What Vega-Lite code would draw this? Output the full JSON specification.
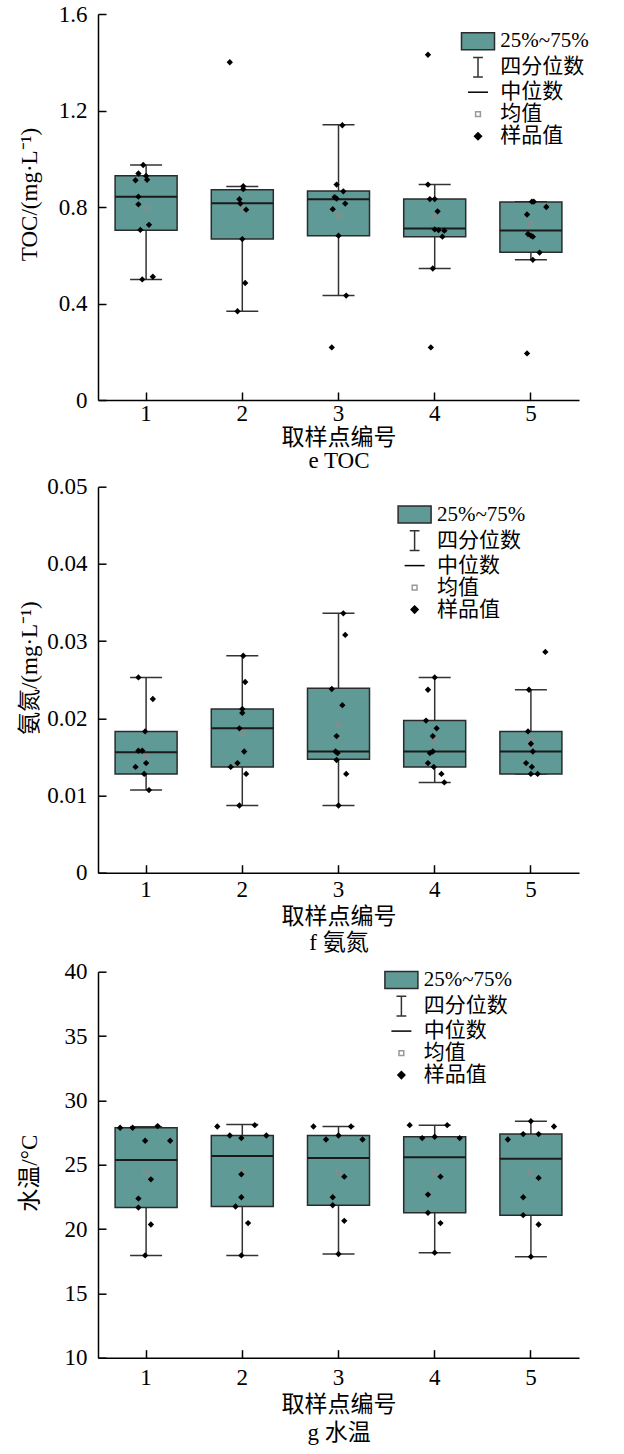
{
"$schema": "https://vega.github.io/schema/vega-lite/v6.json",
"padding": {"left": 18, "top": 3, "right": 0, "bottom": 0},
"background": "white",
"config": {
 "view": {"stroke": null},
 "axis": {"domainColor": "#000000", "domainWidth": 1.5, "tickColor": "#000000", "tickWidth": 1.5, "tickSize": -8, "grid": false, "labelFont": "Liberation Serif", "labelFontSize": 23, "labelColor": "#000000", "labelFlush": false, "labelOverlap": false, "titleFont": "Liberation Serif, Noto Sans CJK SC", "titleFontSize": 23, "titleFontWeight": "normal", "titleColor": "#000000"},
 "axisX": {"labelAngle": 0, "labelPadding": 10, "titlePadding": 4, "titleLineHeight": 22},
 "axisY": {"labelPadding": 19},
 "legend": {"labelFont": "Liberation Serif, Noto Sans CJK SC", "labelFontSize": 21, "labelColor": "#000000", "symbolSize": 400, "symbolStrokeWidth": 1.5, "rowPadding": 1, "labelOffset": 11.3, "padding": 0}
},
"datasets": {
 "leg": [{"k": "25%~75%"}, {"k": "四分位数"}, {"k": "中位数"}, {"k": "均值"}, {"k": "样品值"}],
 "toc_stats": [
  {"site": 1, "lo": 0.500, "q1": 0.704, "med": 0.843, "q3": 0.930, "hi": 0.974, "mean": 0.796},
  {"site": 2, "lo": 0.368, "q1": 0.667, "med": 0.816, "q3": 0.871, "hi": 0.885, "mean": 0.797},
  {"site": 3, "lo": 0.433, "q1": 0.681, "med": 0.832, "q3": 0.866, "hi": 1.141, "mean": 0.759},
  {"site": 4, "lo": 0.545, "q1": 0.677, "med": 0.711, "q3": 0.833, "hi": 0.893, "mean": 0.758},
  {"site": 5, "lo": 0.581, "q1": 0.612, "med": 0.703, "q3": 0.821, "hi": 0.822, "mean": 0.726}
 ],
 "toc_samples": [
  {"site": 1, "v": 0.974, "j": -0.03}, {"site": 1, "v": 0.939, "j": -0.08}, {"site": 1, "v": 0.929, "j": 0.0}, {"site": 1, "v": 0.911, "j": -0.11}, {"site": 1, "v": 0.913, "j": 0.01}, {"site": 1, "v": 0.843, "j": -0.08}, {"site": 1, "v": 0.811, "j": -0.08}, {"site": 1, "v": 0.726, "j": 0.03}, {"site": 1, "v": 0.705, "j": -0.06}, {"site": 1, "v": 0.500, "j": -0.04}, {"site": 1, "v": 0.511, "j": 0.07},
  {"site": 2, "v": 1.400, "j": -0.13}, {"site": 2, "v": 0.886, "j": 0.01}, {"site": 2, "v": 0.874, "j": 0.01}, {"site": 2, "v": 0.832, "j": -0.03}, {"site": 2, "v": 0.814, "j": -0.02}, {"site": 2, "v": 0.789, "j": 0.04}, {"site": 2, "v": 0.667, "j": 0.0}, {"site": 2, "v": 0.485, "j": 0.03}, {"site": 2, "v": 0.368, "j": -0.05},
  {"site": 3, "v": 1.139, "j": 0.04}, {"site": 3, "v": 0.893, "j": -0.02}, {"site": 3, "v": 0.865, "j": 0.05}, {"site": 3, "v": 0.841, "j": -0.04}, {"site": 3, "v": 0.835, "j": -0.02}, {"site": 3, "v": 0.814, "j": 0.07}, {"site": 3, "v": 0.791, "j": -0.06}, {"site": 3, "v": 0.681, "j": 0.0}, {"site": 3, "v": 0.433, "j": 0.08}, {"site": 3, "v": 0.218, "j": -0.07},
  {"site": 4, "v": 1.431, "j": -0.07}, {"site": 4, "v": 0.893, "j": -0.07}, {"site": 4, "v": 0.833, "j": -0.05}, {"site": 4, "v": 0.833, "j": 0.0}, {"site": 4, "v": 0.782, "j": 0.03}, {"site": 4, "v": 0.707, "j": 0.0}, {"site": 4, "v": 0.704, "j": 0.04}, {"site": 4, "v": 0.702, "j": 0.10}, {"site": 4, "v": 0.677, "j": 0.08}, {"site": 4, "v": 0.545, "j": -0.02}, {"site": 4, "v": 0.218, "j": -0.04},
  {"site": 5, "v": 0.822, "j": 0.01}, {"site": 5, "v": 0.822, "j": 0.03}, {"site": 5, "v": 0.800, "j": 0.16}, {"site": 5, "v": 0.769, "j": -0.04}, {"site": 5, "v": 0.688, "j": -0.03}, {"site": 5, "v": 0.681, "j": 0.0}, {"site": 5, "v": 0.677, "j": 0.02}, {"site": 5, "v": 0.611, "j": 0.09}, {"site": 5, "v": 0.581, "j": 0.02}, {"site": 5, "v": 0.193, "j": -0.04}
 ],
 "nh_stats": [
  {"site": 1, "lo": 0.0107, "q1": 0.0128, "med": 0.0156, "q3": 0.0183, "hi": 0.0253, "mean": 0.0150},
  {"site": 2, "lo": 0.0087, "q1": 0.0137, "med": 0.0187, "q3": 0.0212, "hi": 0.0281, "mean": 0.0181},
  {"site": 3, "lo": 0.0087, "q1": 0.0147, "med": 0.0157, "q3": 0.0239, "hi": 0.0336, "mean": 0.0191},
  {"site": 4, "lo": 0.0117, "q1": 0.0137, "med": 0.0157, "q3": 0.0197, "hi": 0.0253, "mean": 0.0171},
  {"site": 5, "lo": 0.0128, "q1": 0.0128, "med": 0.0157, "q3": 0.0183, "hi": 0.0237, "mean": 0.0171}
 ],
 "nh_samples": [
  {"site": 1, "v": 0.0253, "j": -0.08}, {"site": 1, "v": 0.0225, "j": 0.07}, {"site": 1, "v": 0.0183, "j": -0.01}, {"site": 1, "v": 0.0158, "j": -0.08}, {"site": 1, "v": 0.0158, "j": -0.04}, {"site": 1, "v": 0.0137, "j": -0.11}, {"site": 1, "v": 0.0142, "j": 0.0}, {"site": 1, "v": 0.0128, "j": -0.02}, {"site": 1, "v": 0.0107, "j": 0.03},
  {"site": 2, "v": 0.0281, "j": 0.01}, {"site": 2, "v": 0.0247, "j": 0.03}, {"site": 2, "v": 0.0212, "j": 0.0}, {"site": 2, "v": 0.0207, "j": 0.0}, {"site": 2, "v": 0.0187, "j": -0.03}, {"site": 2, "v": 0.0157, "j": 0.02}, {"site": 2, "v": 0.0142, "j": -0.05}, {"site": 2, "v": 0.0137, "j": -0.12}, {"site": 2, "v": 0.0128, "j": 0.04}, {"site": 2, "v": 0.0087, "j": -0.03},
  {"site": 3, "v": 0.0336, "j": 0.05}, {"site": 3, "v": 0.0308, "j": 0.07}, {"site": 3, "v": 0.0238, "j": -0.07}, {"site": 3, "v": 0.0217, "j": 0.04}, {"site": 3, "v": 0.0177, "j": -0.02}, {"site": 3, "v": 0.0157, "j": -0.03}, {"site": 3, "v": 0.0155, "j": -0.01}, {"site": 3, "v": 0.0146, "j": -0.02}, {"site": 3, "v": 0.0128, "j": 0.08}, {"site": 3, "v": 0.0087, "j": 0.0},
  {"site": 4, "v": 0.0253, "j": 0.0}, {"site": 4, "v": 0.0237, "j": -0.07}, {"site": 4, "v": 0.0197, "j": -0.09}, {"site": 4, "v": 0.0187, "j": 0.02}, {"site": 4, "v": 0.0177, "j": -0.02}, {"site": 4, "v": 0.0155, "j": -0.05}, {"site": 4, "v": 0.0157, "j": -0.02}, {"site": 4, "v": 0.0142, "j": -0.07}, {"site": 4, "v": 0.0137, "j": -0.01}, {"site": 4, "v": 0.0128, "j": 0.07}, {"site": 4, "v": 0.0117, "j": 0.10},
  {"site": 5, "v": 0.0286, "j": 0.15}, {"site": 5, "v": 0.0237, "j": -0.02}, {"site": 5, "v": 0.0183, "j": -0.03}, {"site": 5, "v": 0.0167, "j": 0.0}, {"site": 5, "v": 0.0157, "j": 0.02}, {"site": 5, "v": 0.0142, "j": -0.05}, {"site": 5, "v": 0.0137, "j": 0.01}, {"site": 5, "v": 0.0128, "j": 0.0}, {"site": 5, "v": 0.0128, "j": 0.07}
 ],
 "wt_stats": [
  {"site": 1, "lo": 17.95, "q1": 21.67, "med": 25.36, "q3": 27.87, "hi": 27.95, "mean": 24.35},
  {"site": 2, "lo": 17.95, "q1": 21.75, "med": 25.67, "q3": 27.27, "hi": 28.12, "mean": 24.48},
  {"site": 3, "lo": 18.06, "q1": 21.85, "med": 25.52, "q3": 27.27, "hi": 27.97, "mean": 24.43},
  {"site": 4, "lo": 18.16, "q1": 21.26, "med": 25.57, "q3": 27.17, "hi": 28.07, "mean": 24.43},
  {"site": 5, "lo": 17.85, "q1": 21.08, "med": 25.46, "q3": 27.38, "hi": 28.38, "mean": 24.38}
 ],
 "wt_samples": [
  {"site": 1, "v": 27.87, "j": -0.27}, {"site": 1, "v": 27.87, "j": -0.14}, {"site": 1, "v": 28.0, "j": 0.12}, {"site": 1, "v": 26.86, "j": -0.01}, {"site": 1, "v": 26.86, "j": 0.25}, {"site": 1, "v": 23.86, "j": 0.05}, {"site": 1, "v": 22.37, "j": -0.08}, {"site": 1, "v": 21.67, "j": -0.08}, {"site": 1, "v": 20.35, "j": 0.05}, {"site": 1, "v": 17.95, "j": -0.01},
  {"site": 2, "v": 27.97, "j": -0.26}, {"site": 2, "v": 28.07, "j": 0.13}, {"site": 2, "v": 27.27, "j": -0.13}, {"site": 2, "v": 27.27, "j": 0.25}, {"site": 2, "v": 27.07, "j": -0.01}, {"site": 2, "v": 24.25, "j": -0.01}, {"site": 2, "v": 22.47, "j": -0.01}, {"site": 2, "v": 21.75, "j": -0.07}, {"site": 2, "v": 20.46, "j": 0.06}, {"site": 2, "v": 17.95, "j": -0.01},
  {"site": 3, "v": 27.97, "j": -0.26}, {"site": 3, "v": 27.97, "j": 0.13}, {"site": 3, "v": 27.27, "j": 0.0}, {"site": 3, "v": 26.96, "j": -0.13}, {"site": 3, "v": 26.96, "j": 0.25}, {"site": 3, "v": 24.07, "j": 0.06}, {"site": 3, "v": 22.47, "j": -0.06}, {"site": 3, "v": 21.85, "j": -0.06}, {"site": 3, "v": 20.64, "j": 0.06}, {"site": 3, "v": 18.06, "j": 0.0},
  {"site": 4, "v": 28.07, "j": -0.26}, {"site": 4, "v": 28.07, "j": 0.13}, {"site": 4, "v": 27.07, "j": -0.13}, {"site": 4, "v": 27.17, "j": 0.0}, {"site": 4, "v": 27.07, "j": 0.26}, {"site": 4, "v": 24.07, "j": 0.06}, {"site": 4, "v": 22.68, "j": -0.07}, {"site": 4, "v": 21.26, "j": -0.07}, {"site": 4, "v": 20.46, "j": 0.06}, {"site": 4, "v": 18.16, "j": 0.0},
  {"site": 5, "v": 28.38, "j": 0.0}, {"site": 5, "v": 27.97, "j": 0.24}, {"site": 5, "v": 26.96, "j": -0.24}, {"site": 5, "v": 27.38, "j": -0.08}, {"site": 5, "v": 27.38, "j": 0.08}, {"site": 5, "v": 23.97, "j": 0.08}, {"site": 5, "v": 22.47, "j": -0.08}, {"site": 5, "v": 21.08, "j": -0.08}, {"site": 5, "v": 20.35, "j": 0.08}, {"site": 5, "v": 17.85, "j": 0.0}
 ]
},
"bounds": "flush",
"spacing": 86.7,
"resolve": {"scale": {"x": "independent", "y": "independent", "fill": "independent", "stroke": "independent", "shape": "independent", "xOffset": "independent"}, "legend": {"fill": "independent", "stroke": "independent", "shape": "independent"}},
"vconcat": [
 {
  "width": 481, "height": 386,
  "encoding": {"x": {"field": "site", "type": "ordinal", "scale": {"type": "band", "paddingInner": 0, "paddingOuter": 0}, "axis": {"title": ["取样点编号", "e TOC"], "labelPadding": 10, "titlePadding": 1, "titleLineHeight": 23}}},
  "layer": [
   {"data": {"name": "toc_stats"}, "mark": {"type": "rule", "color": "#333333", "strokeWidth": 1.5},
    "encoding": {"y": {"field": "lo", "type": "quantitative", "title": "TOC/(mg·L⁻¹)", "scale": {"domain": [0, 1.6], "nice": false, "zero": false}, "axis": {"values": [0, 0.4, 0.8, 1.2, 1.6], "format": "~g", "titlePadding": 17, "titleY": 180}}, "y2": {"field": "hi"}}},
   {"data": {"name": "toc_stats"}, "mark": {"type": "tick", "color": "#333333", "size": 32, "thickness": 1.5, "opacity": 1},
    "encoding": {"y": {"field": "lo", "type": "quantitative", "title": "TOC/(mg·L⁻¹)"}}},
   {"data": {"name": "toc_stats"}, "mark": {"type": "tick", "color": "#333333", "size": 32, "thickness": 1.5, "opacity": 1},
    "encoding": {"y": {"field": "hi", "type": "quantitative", "title": "TOC/(mg·L⁻¹)"}}},
   {"data": {"name": "toc_stats"}, "mark": {"type": "bar", "width": 62, "fill": "#5f9a97", "stroke": "#2b2b2b", "strokeWidth": 1.5},
    "encoding": {"y": {"field": "q1", "type": "quantitative", "title": "TOC/(mg·L⁻¹)"}, "y2": {"field": "q3"}}},
   {"data": {"name": "toc_stats"}, "mark": {"type": "tick", "color": "#1a1a1a", "size": 62, "thickness": 2, "opacity": 1},
    "encoding": {"y": {"field": "med", "type": "quantitative", "title": "TOC/(mg·L⁻¹)"}}},
   {"data": {"name": "toc_stats"}, "mark": {"type": "point", "shape": "square", "filled": false, "color": "#8c8c8c", "strokeWidth": 1, "size": 22, "opacity": 1},
    "encoding": {"y": {"field": "mean", "type": "quantitative", "title": "TOC/(mg·L⁻¹)"}}},
   {"data": {"name": "toc_samples"}, "mark": {"type": "point", "shape": "diamond", "filled": true, "color": "#000000", "size": 40, "opacity": 1},
    "encoding": {"y": {"field": "v", "type": "quantitative", "title": "TOC/(mg·L⁻¹)"}, "xOffset": {"field": "j", "type": "quantitative", "scale": {"domain": [-0.5, 0.5]}}}},
   {"data": {"name": "leg"}, "mark": {"type": "point", "filled": true, "opacity": 1},
    "encoding": {
     "y": {"field": "v", "type": "quantitative", "title": "TOC/(mg·L⁻¹)"},
     "fill": {"field": "k", "type": "nominal", "scale": {"domain": ["25%~75%", "四分位数", "中位数", "均值", "样品值"], "range": ["#5f9a97", "none", "none", "#ffffff", "#000000"]}, "legend": {"orient": "none", "legendX": 369, "legendY": 16.2, "title": null, "rowPadding": 1}},
     "stroke": {"field": "k", "type": "nominal", "scale": {"domain": ["25%~75%", "四分位数", "中位数", "均值", "样品值"], "range": ["#2b2b2b", "#333333", "#000000", "#999999", "#000000"]}, "legend": {"orient": "none", "legendX": 369, "legendY": 16.2, "title": null, "rowPadding": 1}},
     "shape": {"field": "k", "type": "nominal", "scale": {"domain": ["25%~75%", "四分位数", "中位数", "均值", "样品值"], "range": ["M-1.65,-0.85H1.65V0.85H-1.65Z", "M-0.49,-0.98H0.49M0,-0.98V0.98M-0.49,0.98H0.49", "M-1,0H1", "M-0.24,-0.24H0.24V0.24H-0.24Z", "M0,-0.35L0.35,0L0,0.35L-0.35,0Z"]}, "legend": {"orient": "none", "legendX": 369, "legendY": 16.2, "title": null, "rowPadding": 1}}
    }}
  ]
 },
 {
  "bounds": "flush",
  "spacing": 99,
  "resolve": {"scale": {"x": "independent", "y": "independent", "fill": "independent", "stroke": "independent", "shape": "independent", "xOffset": "independent"}, "legend": {"fill": "independent", "stroke": "independent", "shape": "independent"}},
  "vconcat": [
   {
    "width": 481, "height": 386,
    "encoding": {"x": {"field": "site", "type": "ordinal", "scale": {"type": "band", "paddingInner": 0, "paddingOuter": 0}, "axis": {"title": ["取样点编号", "f 氨氮"], "labelPadding": 14, "titlePadding": 4, "titleLineHeight": 26}}},
    "layer": [
     {"data": {"name": "nh_stats"}, "mark": {"type": "rule", "color": "#333333", "strokeWidth": 1.5},
      "encoding": {"y": {"field": "lo", "type": "quantitative", "title": "氨氮/(mg·L⁻¹)", "scale": {"domain": [0, 0.05], "nice": false, "zero": false}, "axis": {"values": [0, 0.01, 0.02, 0.03, 0.04, 0.05], "format": "~g", "titlePadding": 5, "titleY": 181}}, "y2": {"field": "hi"}}},
     {"data": {"name": "nh_stats"}, "mark": {"type": "tick", "color": "#333333", "size": 32, "thickness": 1.5, "opacity": 1},
      "encoding": {"y": {"field": "lo", "type": "quantitative", "title": "氨氮/(mg·L⁻¹)"}}},
     {"data": {"name": "nh_stats"}, "mark": {"type": "tick", "color": "#333333", "size": 32, "thickness": 1.5, "opacity": 1},
      "encoding": {"y": {"field": "hi", "type": "quantitative", "title": "氨氮/(mg·L⁻¹)"}}},
     {"data": {"name": "nh_stats"}, "mark": {"type": "bar", "width": 62, "fill": "#5f9a97", "stroke": "#2b2b2b", "strokeWidth": 1.5},
      "encoding": {"y": {"field": "q1", "type": "quantitative", "title": "氨氮/(mg·L⁻¹)"}, "y2": {"field": "q3"}}},
     {"data": {"name": "nh_stats"}, "mark": {"type": "tick", "color": "#1a1a1a", "size": 62, "thickness": 2, "opacity": 1},
      "encoding": {"y": {"field": "med", "type": "quantitative", "title": "氨氮/(mg·L⁻¹)"}}},
     {"data": {"name": "nh_stats"}, "mark": {"type": "point", "shape": "square", "filled": false, "color": "#8c8c8c", "strokeWidth": 1, "size": 22, "opacity": 1},
      "encoding": {"y": {"field": "mean", "type": "quantitative", "title": "氨氮/(mg·L⁻¹)"}}},
     {"data": {"name": "nh_samples"}, "mark": {"type": "point", "shape": "diamond", "filled": true, "color": "#000000", "size": 40, "opacity": 1},
      "encoding": {"y": {"field": "v", "type": "quantitative", "title": "氨氮/(mg·L⁻¹)"}, "xOffset": {"field": "j", "type": "quantitative", "scale": {"domain": [-0.5, 0.5]}}}},
     {"data": {"name": "leg"}, "mark": {"type": "point", "filled": true, "opacity": 1},
      "encoding": {
       "y": {"field": "v", "type": "quantitative", "title": "氨氮/(mg·L⁻¹)"},
       "fill": {"field": "k", "type": "nominal", "scale": {"domain": ["25%~75%", "四分位数", "中位数", "均值", "样品值"], "range": ["#5f9a97", "none", "none", "#ffffff", "#000000"]}, "legend": {"orient": "none", "legendX": 305.6, "legendY": 16.9, "title": null, "rowPadding": 1}},
       "stroke": {"field": "k", "type": "nominal", "scale": {"domain": ["25%~75%", "四分位数", "中位数", "均值", "样品值"], "range": ["#2b2b2b", "#333333", "#000000", "#999999", "#000000"]}, "legend": {"orient": "none", "legendX": 305.6, "legendY": 16.9, "title": null, "rowPadding": 1}},
       "shape": {"field": "k", "type": "nominal", "scale": {"domain": ["25%~75%", "四分位数", "中位数", "均值", "样品值"], "range": ["M-1.65,-0.85H1.65V0.85H-1.65Z", "M-0.49,-0.98H0.49M0,-0.98V0.98M-0.49,0.98H0.49", "M-1,0H1", "M-0.24,-0.24H0.24V0.24H-0.24Z", "M0,-0.35L0.35,0L0,0.35L-0.35,0Z"]}, "legend": {"orient": "none", "legendX": 305.6, "legendY": 16.9, "title": null, "rowPadding": 1}}
      }}
    ]
   },
   {
    "width": 481, "height": 386,
    "encoding": {"x": {"field": "site", "type": "ordinal", "scale": {"type": "band", "paddingInner": 0, "paddingOuter": 0}, "axis": {"title": ["取样点编号", "g 水温"], "labelPadding": 17, "titlePadding": 4, "titleLineHeight": 28}}},
    "layer": [
     {"data": {"name": "wt_stats"}, "mark": {"type": "rule", "color": "#333333", "strokeWidth": 1.5},
      "encoding": {"y": {"field": "lo", "type": "quantitative", "title": "水温/°C", "scale": {"domain": [10, 40], "nice": false, "zero": false}, "axis": {"values": [10, 15, 20, 25, 30, 35, 40], "format": "~g", "titlePadding": 23, "titleY": 201}}, "y2": {"field": "hi"}}},
     {"data": {"name": "wt_stats"}, "mark": {"type": "tick", "color": "#333333", "size": 32, "thickness": 1.5, "opacity": 1},
      "encoding": {"y": {"field": "lo", "type": "quantitative", "title": "水温/°C"}}},
     {"data": {"name": "wt_stats"}, "mark": {"type": "tick", "color": "#333333", "size": 32, "thickness": 1.5, "opacity": 1},
      "encoding": {"y": {"field": "hi", "type": "quantitative", "title": "水温/°C"}}},
     {"data": {"name": "wt_stats"}, "mark": {"type": "bar", "width": 62, "fill": "#5f9a97", "stroke": "#2b2b2b", "strokeWidth": 1.5},
      "encoding": {"y": {"field": "q1", "type": "quantitative", "title": "水温/°C"}, "y2": {"field": "q3"}}},
     {"data": {"name": "wt_stats"}, "mark": {"type": "tick", "color": "#1a1a1a", "size": 62, "thickness": 2, "opacity": 1},
      "encoding": {"y": {"field": "med", "type": "quantitative", "title": "水温/°C"}}},
     {"data": {"name": "wt_stats"}, "mark": {"type": "point", "shape": "square", "filled": false, "color": "#8c8c8c", "strokeWidth": 1, "size": 22, "opacity": 1},
      "encoding": {"y": {"field": "mean", "type": "quantitative", "title": "水温/°C"}}},
     {"data": {"name": "wt_samples"}, "mark": {"type": "point", "shape": "diamond", "filled": true, "color": "#000000", "size": 40, "opacity": 1},
      "encoding": {"y": {"field": "v", "type": "quantitative", "title": "水温/°C"}, "xOffset": {"field": "j", "type": "quantitative", "scale": {"domain": [-0.5, 0.5]}}}},
     {"data": {"name": "leg"}, "mark": {"type": "point", "filled": true, "opacity": 1},
      "encoding": {
       "y": {"field": "v", "type": "quantitative", "title": "水温/°C"},
       "fill": {"field": "k", "type": "nominal", "scale": {"domain": ["25%~75%", "四分位数", "中位数", "均值", "样品值"], "range": ["#5f9a97", "none", "none", "#ffffff", "#000000"]}, "legend": {"orient": "none", "legendX": 292.4, "legendY": -2.6, "title": null, "rowPadding": 1}},
       "stroke": {"field": "k", "type": "nominal", "scale": {"domain": ["25%~75%", "四分位数", "中位数", "均值", "样品值"], "range": ["#2b2b2b", "#333333", "#000000", "#999999", "#000000"]}, "legend": {"orient": "none", "legendX": 292.4, "legendY": -2.6, "title": null, "rowPadding": 1}},
       "shape": {"field": "k", "type": "nominal", "scale": {"domain": ["25%~75%", "四分位数", "中位数", "均值", "样品值"], "range": ["M-1.65,-0.85H1.65V0.85H-1.65Z", "M-0.49,-0.98H0.49M0,-0.98V0.98M-0.49,0.98H0.49", "M-1,0H1", "M-0.24,-0.24H0.24V0.24H-0.24Z", "M0,-0.35L0.35,0L0,0.35L-0.35,0Z"]}, "legend": {"orient": "none", "legendX": 292.4, "legendY": -2.6, "title": null, "rowPadding": 1}}
      }}
    ]
   }
  ]
 }
]
}
